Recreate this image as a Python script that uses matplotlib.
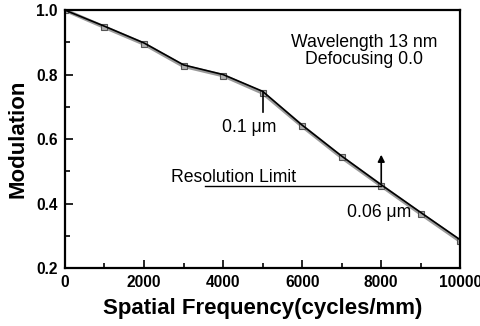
import matplotlib
matplotlib.use("Agg")
import matplotlib.pyplot as plt
from matplotlib.ticker import MultipleLocator

plt.rcParams["font.family"] = ["Liberation Sans", "DejaVu Sans"]

freq = [0, 1000, 2000, 3000, 4000, 5000, 6000, 7000, 8000, 9000, 10000]
mod_gray = [1.0, 0.947, 0.895, 0.826, 0.797, 0.743, 0.640, 0.543, 0.455, 0.368, 0.283]
mod_black = [1.0, 0.950, 0.898, 0.830, 0.800, 0.748, 0.643, 0.547, 0.458, 0.372, 0.287]

res_freq = 8000
res_mod = 0.455
res_line_start = 3550

fig = plt.figure(figsize=(4.81, 3.26), dpi=100)
ax = fig.add_axes([0.135, 0.178, 0.822, 0.791])

ax.plot(freq, mod_gray, color="#9a9a9a", linewidth=2.6, marker="s", markersize=4.5,
        markerfacecolor="#b0b0b0", markeredgecolor="#555555", markeredgewidth=0.8, zorder=2)
ax.plot(freq, mod_black, color="black", linewidth=1.2, zorder=3)

# resolution limit
ax.plot([res_line_start, res_freq], [res_mod, res_mod], color="black", linewidth=1.0)
ax.annotate("", xy=(res_freq, 0.56), xytext=(res_freq, res_mod),
            arrowprops=dict(arrowstyle="-|>", color="black", lw=1.2, mutation_scale=10))
ax.text(2690, 0.482, "Resolution Limit", fontsize=12.7, ha="left", va="center")

# 0.1 um marker
ax.plot([5000, 5000], [0.745, 0.685], color="black", linewidth=1.2)
ax.text(3985, 0.637, "0.1 \u03bcm", fontsize=12.7, ha="left", va="center")

ax.text(7130, 0.371, "0.06 \u03bcm", fontsize=12.7, ha="left", va="center")

ax.text(7560, 0.873, "Wavelength 13 nm\nDefocusing 0.0", fontsize=12.7, ha="center",
        va="center", linespacing=1.05)

ax.set_xlim(0, 10000)
ax.set_ylim(0.2, 1.0)
ax.xaxis.set_major_locator(MultipleLocator(2000))
ax.xaxis.set_minor_locator(MultipleLocator(1000))
ax.yaxis.set_major_locator(MultipleLocator(0.2))
ax.yaxis.set_minor_locator(MultipleLocator(0.1))
ax.tick_params(which="both", direction="in", width=1.2, labelsize=11.2)
ax.tick_params(axis="x", pad=5)
ax.tick_params(axis="y", pad=5)
ax.tick_params(which="major", length=6)
ax.tick_params(which="minor", length=3.5)
for lab in ax.get_xticklabels() + ax.get_yticklabels():
    lab.set_fontweight("bold")
for spine in ax.spines.values():
    spine.set_linewidth(1.6)

ax.set_xlabel("Spatial Frequency(cycles/mm)", fontsize=16, fontweight="bold", labelpad=6)
ax.set_ylabel("Modulation", fontsize=16, fontweight="bold", labelpad=6)

fig.savefig("out.png", dpi=100)
